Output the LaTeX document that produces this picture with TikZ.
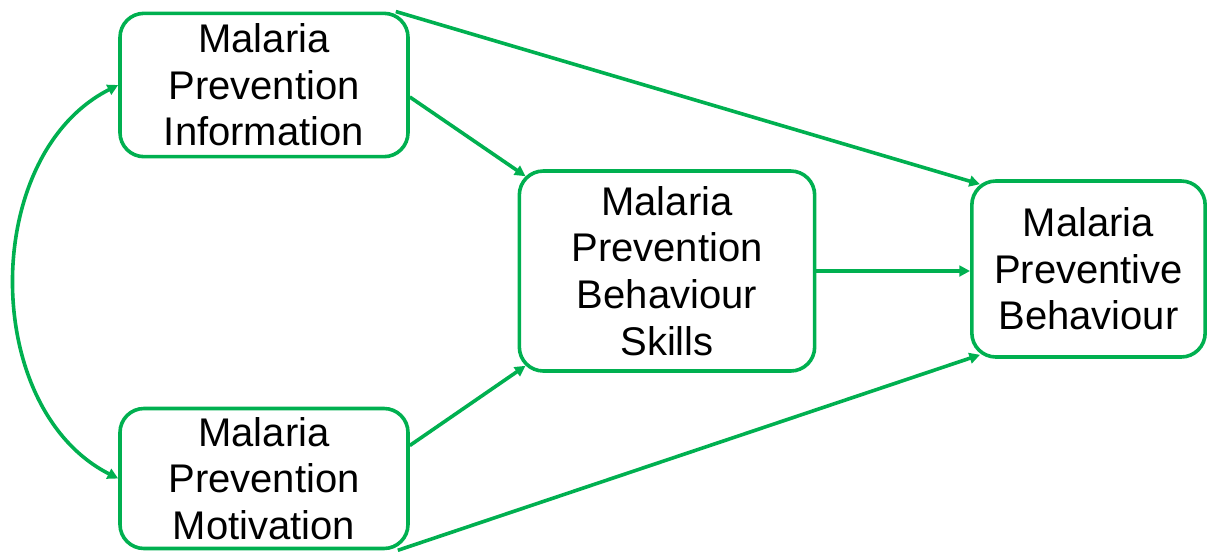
\documentclass[tikz,border=0pt]{standalone}
\usepackage{fontspec}
\setmainfont{Liberation Sans}
\usetikzlibrary{arrows.meta,calc}
\definecolor{grn}{HTML}{00B050}
\begin{document}
\begin{tikzpicture}[x=0.75pt,y=-0.75pt,
  box/.style={draw=grn, line width=2.7pt, rounded corners=18pt, align=center,
    inner sep=0pt, font=\fontsize{30}{35}\selectfont},
  arr/.style={draw=grn, line width=2.7pt, -{Triangle[length=8pt,width=8pt]}},
  darr/.style={draw=grn, line width=2.7pt, {Triangle[length=8pt,width=8pt]}-{Triangle[length=8pt,width=8pt]}}]
\useasboundingbox (0,0) rectangle (1208,551);
\node[box, minimum width=216pt, minimum height=107.5pt] (info) at (264,85) {Malaria\\Prevention\\Information};
\node[box, minimum width=216pt, minimum height=105pt] (mot) at (264,478.5) {Malaria\\Prevention\\Motivation};
\node[box, minimum width=221.5pt, minimum height=150pt] (skills) at (667,271) {Malaria\\Prevention\\Behaviour\\Skills};
\node[box, minimum width=175pt, minimum height=132pt] (beh) at (1088.5,269) {Malaria\\Preventive\\Behaviour};
\draw[arr] ($(info.north east)+(-14,0)$) -- ($(beh.north west)+(10,5)$);
\draw[arr] ($(info.east)+(0,12)$) -- ($(skills.north west)+(8,7)$);
\draw[arr] (skills.east) -- (skills.east -| beh.west);
\draw[arr] ($(mot.east)+(0,-33)$) -- ($(skills.south west)+(8,-7)$);
\draw[arr] ($(mot.south east)+(-12,0)$) -- ($(beh.south west)+(10,-4)$);
\draw[darr] (info.west) .. controls +(-138,70) and +(-138,-70) .. (mot.west);
\end{tikzpicture}
\end{document}
